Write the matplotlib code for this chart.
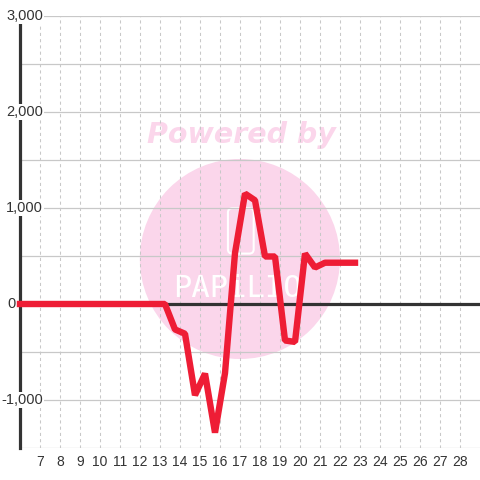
import matplotlib
matplotlib.use('Agg')
import matplotlib.pyplot as plt
from matplotlib.patches import Ellipse, FancyBboxPatch

# data (x = day of month, half-day steps)
days = [6.0, 13.25, 13.75, 14.25, 14.75, 15.25, 15.75, 16.25, 16.75, 17.25, 17.75,
        18.25, 18.75, 19.25, 19.75, 20.25, 20.75, 21.25, 21.75, 22.25, 22.75]
values = [0, 0, -265, -310, -950, -725, -1340, -720, 530, 1150, 1080,
          495, 495, -380, -395, 525, 380, 430, 430, 430, 430]

x_ticks = list(range(7, 29))
y_ticks = [-1500, -1000, -500, 0, 500, 1000, 1500, 2000, 2500, 3000]
y_labels = {3000: '3,000', 2000: '2,000', 1000: '1,000', 0: '0', -1000: '-1,000'}

plt.rcParams['font.family'] = ['Liberation Sans', 'DejaVu Sans']

fig = plt.figure(figsize=(4.8, 4.8), dpi=100)
ax = fig.add_axes([20/480, 32/480, 460/480, 432/480])
ax.set_xlim(6, 29)
ax.set_ylim(-1500, 3000)

# watermark
pink = '#fbd6eb'
ax.add_patch(Ellipse((0.478, 0.4375), 0.435, 0.463, transform=ax.transAxes,
                     facecolor=pink, edgecolor='none', zorder=0))
ax.text(0.4815, 0.706, 'Powered by', transform=ax.transAxes, ha='center', va='baseline',
        fontsize=20.5, fontweight='bold', fontstyle='italic', color=pink,
        family='DejaVu Sans', zorder=0)
ax.add_patch(FancyBboxPatch((0.452, 0.45), 0.056, 0.105, transform=ax.transAxes,
                            boxstyle='round,pad=0,rounding_size=0.01',
                            facecolor='none', edgecolor='white', lw=1.5, zorder=0))
ax.text(0.472, 0.37, 'PAPiLIO', transform=ax.transAxes, ha='center', va='center',
        fontsize=22, color='white', family='DejaVu Sans Mono', zorder=0)

# grid
ax.set_axisbelow(True)
ax.set_xticks(x_ticks)
ax.set_yticks(y_ticks)
ax.yaxis.grid(True, color='#c8c8c8', lw=0.9, ls='-')
ax.xaxis.grid(True, color='#c8c8c8', lw=0.75, ls=(0, (3, 3)))
ax.tick_params(axis='both', length=0)
ax.tick_params(axis='x', labelsize=10, labelcolor='#333333', pad=5)
ax.set_yticklabels([])

for s in ['top', 'right', 'bottom']:
    ax.spines[s].set_visible(False)
ax.spines['left'].set_color('#333333')
ax.spines['left'].set_linewidth(2.3)
ax.spines['left'].set_zorder(2.4)

# y labels with white background covering the axis line
for v, lab in y_labels.items():
    xpos = 16 if v == 0 else 43
    ax.text((xpos - 20) / 460, v, lab, transform=ax.get_yaxis_transform(),
            ha='right', va='center', fontsize=10.5, color='#333333', clip_on=False,
            zorder=3, bbox=dict(facecolor='white', edgecolor='none', pad=1))

ax.axhline(0, color='#333333', lw=2.3, zorder=1.5)
ax.plot(days, values, color='#ee1d35', lw=4.6, solid_joinstyle='bevel',
        solid_capstyle='projecting', clip_on=False, zorder=4)

plt.savefig('out.png', dpi=100)
